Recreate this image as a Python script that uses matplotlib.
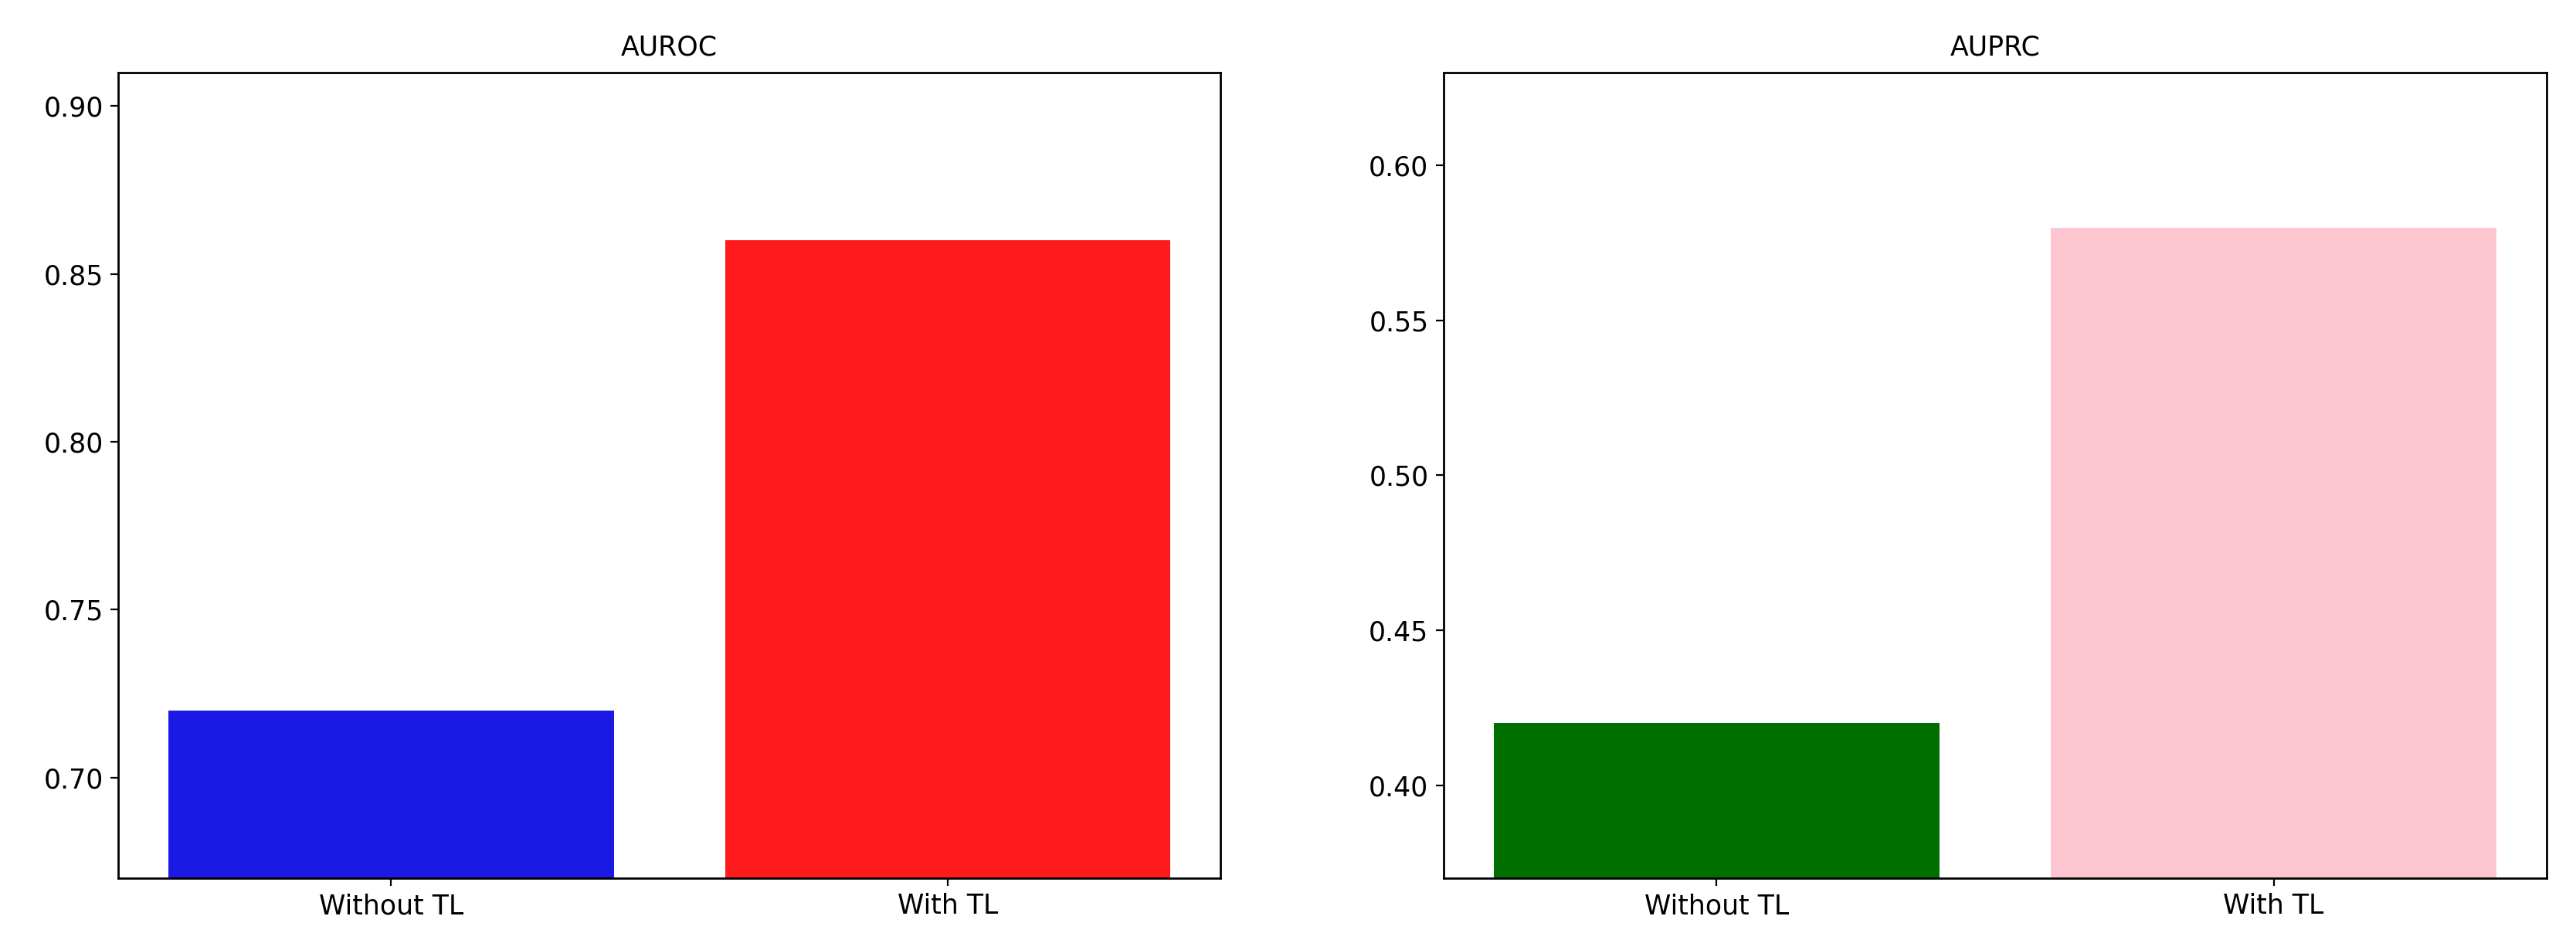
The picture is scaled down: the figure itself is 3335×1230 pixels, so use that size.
import matplotlib
matplotlib.use('Agg')
import matplotlib.pyplot as plt

# Data
labels = ['Without TL', 'With TL']
auroc = [0.72, 0.86]
auprc = [0.42, 0.58]
auroc_colors = ['#1a1ae4', '#ff1a1e']
auprc_colors = ['#006f00', '#fec6d0']

plt.rcParams['font.family'] = 'DejaVu Sans'
plt.rcParams['font.size'] = 12.5
plt.rcParams['axes.linewidth'] = 1.0

fig, (ax1, ax2) = plt.subplots(1, 2, figsize=(16.675, 6.15), dpi=200)
fig.subplots_adjust(left=0.0459, right=0.4738, bottom=0.0756, top=0.9236)
ax1.set_position([0.0459, 0.0756, 0.4738 - 0.0459, 0.9236 - 0.0756])
ax2.set_position([0.5604, 0.0756, 0.9886 - 0.5604, 0.9236 - 0.0756])

for ax, vals, cols, title in [(ax1, auroc, auroc_colors, 'AUROC'),
                              (ax2, auprc, auprc_colors, 'AUPRC')]:
    ax.bar(labels, vals, color=cols)
    ax.set_ylim(min(vals) - 0.05, max(vals) + 0.05)
    ax.set_title(title, fontsize=12.5, pad=8)

fig.savefig('out.png', dpi=200)
